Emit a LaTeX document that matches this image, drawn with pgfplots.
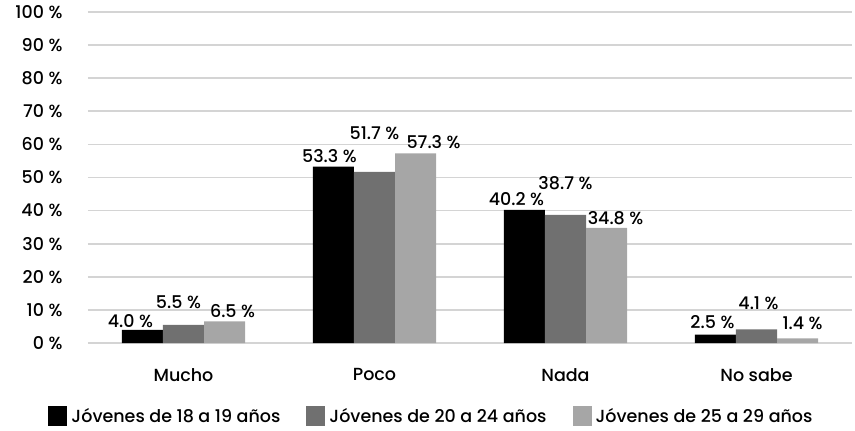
\documentclass[border=0pt]{standalone}
\usepackage{pgfplots}
\pgfplotsset{compat=1.18}
\usepackage{pgfplotstable}
\usepackage{fontspec}
\setmainfont{Poppins}[UprightFont={* Medium}]
\definecolor{cA}{HTML}{000000}
\definecolor{cB}{HTML}{707070}
\definecolor{cC}{HTML}{A6A6A6}
\definecolor{grid}{HTML}{D4D4D4}
\pgfplotstableread{
x y dx dy
0 4.0 -12 2
1 53.3 -4 4
2 40.2 -8 4
3 2.5 -3 6
}\tA
\pgfplotstableread{
x y dx dy
0 5.5 -5 16
1 51.7 0 32
2 38.7 0 25
3 4.1 2 20
}\tB
\pgfplotstableread{
x y dx dy
0 6.5 8 4
1 57.3 18 4
2 34.8 9 3
3 1.4 5 8
}\tC
\begin{document}
\begin{tikzpicture}
\path[use as bounding box] (-88bp,-88bp) rectangle (767bp,343bp);
\begin{axis}[
  scale only axis,
  width=764bp, height=331bp,
  at={(0,0)}, anchor=south west,
  ybar=0pt,
  bar width=0.215,
  xmin=-0.5, xmax=3.5,
  ymin=0, ymax=100,
  axis line style={draw=none},
  ytick={0,10,...,100},
  yticklabels={0 \%,10 \%,20 \%,30 \%,40 \%,50 \%,60 \%,70 \%,80 \%,90 \%,100 \%},
  xtick={0,1,2,3},
  xticklabels={Mucho,Poco,Nada,No sabe},
  major tick length=0pt,
  ymajorgrids,
  grid style={draw=grid, line width=1.6bp},
  tick label style={font=\fontsize{17.5bp}{20bp}\selectfont},
  yticklabel style={xshift=-22bp},
  xticklabel style={yshift=-22bp},
  /pgf/number format/assume math mode=true,
  nodes near coords={\pgfmathprintnumber[fixed,fixed zerofill,precision=1]{\pgfplotspointmeta}~\%},
  visualization depends on={\thisrow{dx} \as \dx},
  visualization depends on={\thisrow{dy} \as \dy},
  every node near coord/.append style={font=\fontsize{17.5bp}{20bp}\selectfont, anchor=south, inner sep=0pt, xshift=\dx bp, yshift=\dy bp, text=black},
  legend style={at={(-0.052,-0.19)}, anchor=north west, draw=none, legend columns=3,
     font=\fontsize{17.5bp}{20bp}\selectfont, column sep=2bp, inner sep=0pt,
     nodes={inner sep=2bp},
     /tikz/every even column/.append style={column sep=24bp}},
  legend cell align=left,
  legend image code/.code={\fill[#1] (0bp,-10bp) rectangle (19bp,10bp);},
]
\addplot[fill=cA, draw=none] table[x=x,y=y] {\tA};
\addplot[fill=cB, draw=none] table[x=x,y=y] {\tB};
\addplot[fill=cC, draw=none] table[x=x,y=y] {\tC};
\legend{Jóvenes de 18 a 19 años,Jóvenes de 20 a 24 años,Jóvenes de 25 a 29 años}
\end{axis}
\end{tikzpicture}
\end{document}
